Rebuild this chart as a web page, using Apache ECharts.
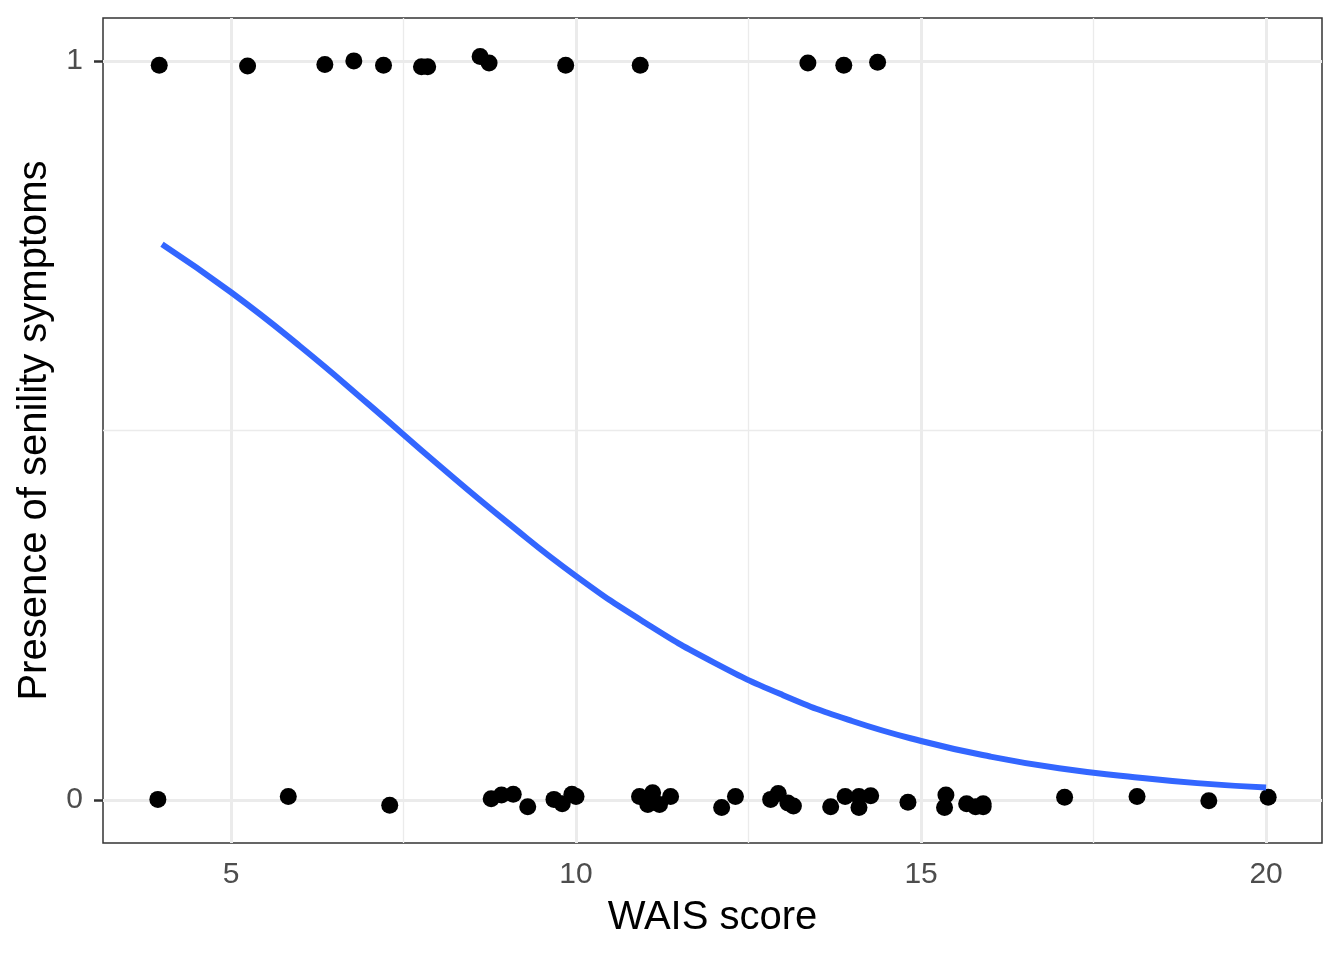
<!DOCTYPE html>
<html>
<head>
<meta charset="utf-8">
<script src="https://cdn.jsdelivr.net/npm/echarts@6/dist/echarts.min.js"></script>
<style>
html, body { margin: 0; background: #fff; }
#chart { width: 1344px; height: 960px; }
</style>
</head>
<body>
<div id="chart"></div>
<script>
// tick positions
const xTicks = [5, 10, 15, 20];
const xMinorGrid = [7.5, 12.5, 17.5];
const yTicks = [0, 1];
const yMinorGrid = [0.5];

const withSymptoms = [
    [3.96, 0.994], [5.24, 0.993], [6.36, 0.995], [6.78, 1.000], [7.21, 0.994],
    [7.76, 0.992], [7.85, 0.992], [8.61, 1.006], [8.74, 0.997], [9.85, 0.994],
    [10.93, 0.994], [13.36, 0.997], [13.88, 0.994], [14.37, 0.998]
];
const withoutSymptoms = [
    [3.94, 0.001], [5.83, 0.005], [7.30, -0.007], [8.77, 0.002], [8.92, 0.007],
    [9.09, 0.008], [9.30, -0.009], [9.68, 0.001], [9.80, -0.005], [9.94, 0.008],
    [10.00, 0.005], [10.92, 0.005], [11.04, -0.006], [11.11, 0.010], [11.21, -0.006],
    [11.37, 0.005], [12.11, -0.010], [12.31, 0.005], [12.82, 0.001], [12.93, 0.009],
    [13.07, -0.004], [13.15, -0.008], [13.69, -0.009], [13.90, 0.005], [14.10, -0.010],
    [14.10, 0.005], [14.27, 0.006], [14.81, -0.003], [15.34, -0.010], [15.36, 0.007],
    [15.66, -0.005], [15.79, -0.009], [15.90, -0.005], [15.90, -0.009], [17.08, 0.004],
    [18.13, 0.005], [19.17, -0.001], [20.03, 0.004]
];

// fitted curve, read at whole scores
const fitScore = [4, 5, 6, 7, 8, 9, 10, 11, 12, 13, 14, 15, 16, 17, 18, 19, 20];
const fitProb = [0.752, 0.687, 0.614, 0.535, 0.454, 0.376, 0.303, 0.240, 0.186,
    0.142, 0.107, 0.080, 0.059, 0.043, 0.032, 0.023, 0.017];

const chart = echarts.init(document.getElementById("chart"));

const gridLine = function (axis, value, width) {
    const item = { lineStyle: { color: "#EBEBEB", width: width, type: "solid" } };
    item[axis] = value;
    return item;
};

const tickLabel = {
    color: "#4D4D4D",
    fontSize: 30,
    fontFamily: "Liberation Sans"
};

const titleText = { color: "#000", fontSize: 40, fontFamily: "Liberation Sans" };

const tickStyle = {
    show: true,
    length: 9,
    lineStyle: { color: "#333333", width: 2.5 }
};

const option = {
    animation: false,
    grid: {
        left: 103,
        right: 22,
        top: 18,
        bottom: 117,
        show: true,
        borderColor: "#333333",
        borderWidth: 1.5,
        backgroundColor: "#fff"
    },
    xAxis: {
        type: "value",
        min: 3.145,
        max: 20.81,
        name: "WAIS score",
        nameLocation: "middle",
        nameGap: 55,
        nameTextStyle: titleText,
        axisLine: { show: false },
        splitLine: { show: false },
        axisTick: Object.assign({ customValues: xTicks }, tickStyle),
        axisLabel: Object.assign({ customValues: xTicks, margin: 17 }, tickLabel)
    },
    yAxis: {
        type: "value",
        min: -0.058,
        max: 1.058,
        name: "Presence of senility symptoms",
        nameLocation: "middle",
        nameGap: 48,
        nameRotate: 90,
        nameTextStyle: titleText,
        axisLine: { show: false },
        splitLine: { show: false },
        axisTick: Object.assign({ customValues: yTicks }, tickStyle),
        axisLabel: Object.assign({ customValues: yTicks, margin: 20 }, tickLabel)
    },
    series: [
        {
            type: "line",
            data: [],
            silent: true,
            z: 1,
            markLine: {
                silent: true,
                z: 1,
                symbol: "none",
                label: { show: false },
                animation: false,
                data: []
                    .concat(xMinorGrid.map(v => gridLine("xAxis", v, 1.3)))
                    .concat(yMinorGrid.map(v => gridLine("yAxis", v, 1.3)))
                    .concat(xTicks.map(v => gridLine("xAxis", v, 3)))
                    .concat(yTicks.map(v => gridLine("yAxis", v, 3)))
            }
        },
        {
            type: "scatter",
            data: withSymptoms.concat(withoutSymptoms),
            symbolSize: 17,
            itemStyle: { color: "#000", opacity: 1 },
            z: 3
        },
        {
            type: "line",
            data: fitScore.map((x, i) => [x, fitProb[i]]),
            smooth: true,
            showSymbol: false,
            lineStyle: { color: "#3366FF", width: 6 },
            z: 4
        }
    ]
};

chart.setOption(option);
</script>
</body>
</html>
